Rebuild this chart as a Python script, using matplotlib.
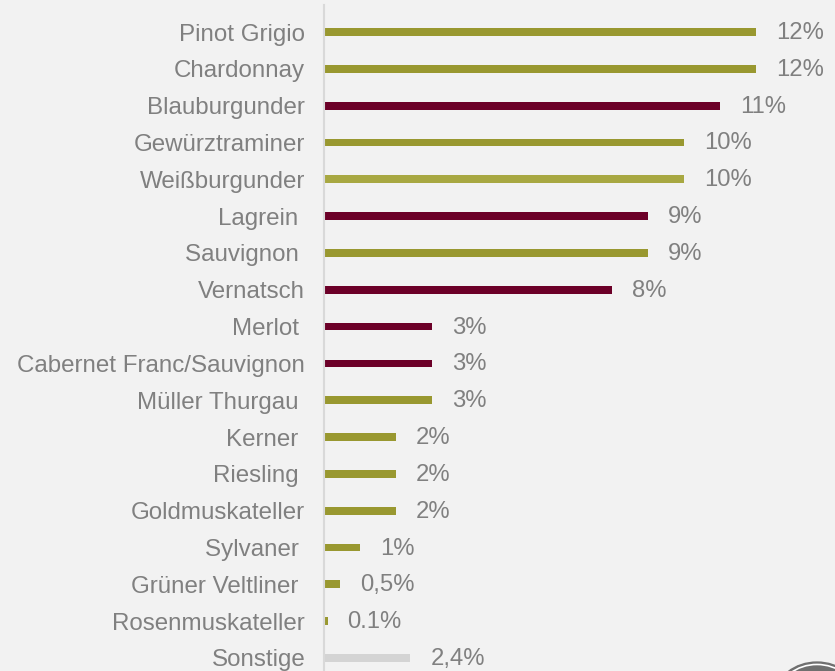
import matplotlib
matplotlib.use("Agg")
import matplotlib.pyplot as plt
from matplotlib.patches import Circle

categories = ["Pinot Grigio", "Chardonnay", "Blauburgunder", "Gewürztraminer",
              "Weißburgunder", "Lagrein ", "Sauvignon ", "Vernatsch", "Merlot ",
              "Cabernet Franc/Sauvignon", "Müller Thurgau ", "Kerner ", "Riesling ",
              "Goldmuskateller", "Sylvaner ", "Grüner Veltliner ", "Rosenmuskateller",
              "Sonstige"]
values = [12, 12, 11, 10, 10, 9, 9, 8, 3, 3, 3, 2, 2, 2, 1, 0.45, 0.1, 2.4]
value_labels = ["12%", "12%", "11%", "10%", "10%", "9%", "9%", "8%", "3%", "3%",
                "3%", "2%", "2%", "2%", "1%", "0,5%", "0.1%", "2,4%"]
OLIVE, LIGHT_OLIVE, RED, GREY = "#999830", "#a8a842", "#6c0028", "#d4d4d4"
colors = [OLIVE, OLIVE, RED, OLIVE, LIGHT_OLIVE, RED, OLIVE, RED, RED, RED,
          OLIVE, OLIVE, OLIVE, OLIVE, OLIVE, OLIVE, OLIVE, GREY]

W, H = 835, 671
fig = plt.figure(figsize=(W / 100, H / 100), dpi=100)
fig.patch.set_facecolor("#f2f2f2")

left_px, top_px, bottom_px, right_px = 324, 5, 0, 835
ax = fig.add_axes([left_px / W, bottom_px / H, (right_px - left_px) / W,
                   (H - top_px - bottom_px) / H])
ax.set_facecolor("#f2f2f2")

n = len(categories)
pos = list(range(n))
ax.barh(pos, values, height=0.21, color=colors)
spacing = 36.82
ax.set_ylim(n - 1 + 13 / spacing, -27 / spacing)
ax.set_xlim(0, (right_px - left_px) / 36.0)

for p, v, lab in zip(pos, values, value_labels):
    ax.annotate(lab, (v, p), xytext=(20, -1), textcoords="offset pixels",
                ha="left", va="center", fontsize=17.2, color="#808080",
                family="Liberation Sans")

ax.set_yticks(pos)
ax.set_yticklabels(categories, fontsize=17.4, color="#808080", family="Liberation Sans")
for t in ax.get_yticklabels():
    t.set_y(t.get_position()[1])
ax.tick_params(axis="y", length=0, pad=13.5)
ax.set_xticks([])
for s in ["top", "right", "bottom"]:
    ax.spines[s].set_visible(False)
ax.spines["left"].set_color("#d9d9d9")
ax.spines["left"].set_linewidth(1.5)

# decorative logo circle at bottom right
cx, cy = 817 / W, (H - 695) / H
fig.patches.append(Circle((cx, cy), 41 / W, transform=fig.transFigure,
                          facecolor="#6f6f6f", edgecolor="#6f6f6f", zorder=5))
fig.patches.append(Circle((cx, cy), 38 / W, transform=fig.transFigure,
                          facecolor="none", edgecolor="white", linewidth=1.2, zorder=6))

fig.savefig("out.png", dpi=100, facecolor=fig.get_facecolor())
